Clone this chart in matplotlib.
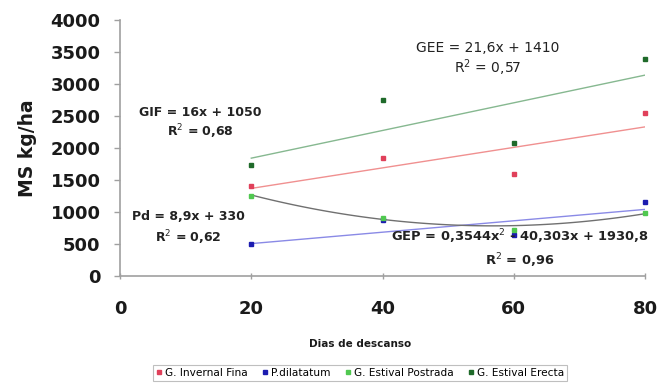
import matplotlib
matplotlib.use("Agg")
import matplotlib.pyplot as plt
import numpy as np

plt.rcParams['font.family'] = ['DejaVu Sans']

dias = [20, 40, 60, 80]
invernal_fina = [1400, 1840, 1600, 2550]
p_dilatatum = [500, 870, 640, 1160]
estival_postrada = [1250, 900, 720, 980]
estival_erecta = [1730, 2750, 2080, 3390]

series_names = ["G. Invernal Fina", "P.dilatatum", "G. Estival Postrada", "G. Estival Erecta"]

# trendline coefficients as printed on the chart (highest power first)
coef_gif = [16, 1050]
coef_pd = [8.9, 330]
coef_gep = [0.3544, -40.303, 1930.8]
coef_gee = [21.6, 1410]

eq_gif = ["GIF = 16x + 1050", "R$^{2}$ = 0,68"]
eq_pd = ["Pd = 8,9x + 330", "R$^{2}$ = 0,62"]
eq_gep = ["GEP = 0,3544x$^{2}$ - 40,303x + 1930,8", "R$^{2}$ = 0,96"]
eq_gee = ["GEE = 21,6x + 1410", "R$^{2}$ = 0,57"]

xticks = [0, 20, 40, 60, 80]
yticks = [0, 500, 1000, 1500, 2000, 2500, 3000, 3500, 4000]

fig = plt.figure(figsize=(6.67, 3.83), dpi=100)
ax = fig.add_axes([0.18, 0.279, 0.787, 0.669])

mk = dict(marker='s', linestyle='none', markersize=3.0, clip_on=False, zorder=3)
ax.plot(dias, invernal_fina, color='#e0405a', label=series_names[0], **mk)
ax.plot(dias, p_dilatatum, color='#1c1cb0', label=series_names[1], **mk)
ax.plot(dias, estival_postrada, color='#50c850', label=series_names[2], **mk)
ax.plot(dias, estival_erecta, color='#1f6a2a', label=series_names[3], **mk)

xs = np.linspace(dias[0], dias[-1], 100)
ax.plot(xs, np.polyval(coef_gif, xs), color='#f09090', lw=1.0)
ax.plot(xs, np.polyval(coef_pd, xs), color='#8a8ae6', lw=1.0)
ax.plot(xs, np.polyval(coef_gep, xs), color='#707070', lw=1.0)
ax.plot(xs, np.polyval(coef_gee, xs), color='#86b890', lw=1.0)

ax.set_xlim(0, 80)
ax.set_ylim(0, 4000)
ax.set_xticks(xticks)
ax.set_yticks(yticks)
for s in ['top', 'right']:
    ax.spines[s].set_visible(False)
for s in ['left', 'bottom']:
    ax.spines[s].set_color('#a0a0a0')
    ax.spines[s].set_linewidth(1.2)
ax.tick_params(axis='y', colors='#a0a0a0', length=4, width=1, labelcolor='#1a1a1a', labelsize=13, pad=10)
ax.tick_params(axis='x', colors='#a0a0a0', length=4, width=1, direction='inout', labelcolor='#1a1a1a', labelsize=13, pad=15)
for lab in ax.get_xticklabels() + ax.get_yticklabels():
    lab.set_fontweight('bold')

ax.set_ylabel("MS kg/ha", fontsize=13.5, fontweight='bold', color='#1a1a1a', labelpad=10)
ax.set_xlabel("Dias de descanso", fontsize=7.5, fontweight='bold', color='#1a1a1a', va='center')
ax.xaxis.set_label_coords((360 - 120) / 525, -(344 - 276) / 256)

tk = dict(ha='center', va='center', fontsize=9, fontweight='bold', color='#222222', transform=fig.transFigure)
def place(lines, cx, y1, y2, **kw):
    d = dict(tk)
    d.update(kw)
    fig.text(cx / 667, 1 - y1 / 383, lines[0], **d)
    fig.text(cx / 667, 1 - y2 / 383, lines[1], **d)

place(eq_gif, 200, 113, 132)
place(eq_pd, 188, 216, 238)
place(eq_gep, 520, 237, 261, fontsize=9.4)
place(eq_gee, 488, 48, 68, fontweight='normal', fontsize=10)

leg = fig.legend(loc='center', bbox_to_anchor=(360 / 667, 1 - 373 / 383), ncol=4, fontsize=7.6,
                 frameon=True, fancybox=False, edgecolor='#b0b0b0', handlelength=0.6,
                 handletextpad=0.3, columnspacing=1.3, borderpad=0.25, markerscale=0.9)
leg.get_frame().set_linewidth(0.8)

fig.savefig("out.png", dpi=100)
